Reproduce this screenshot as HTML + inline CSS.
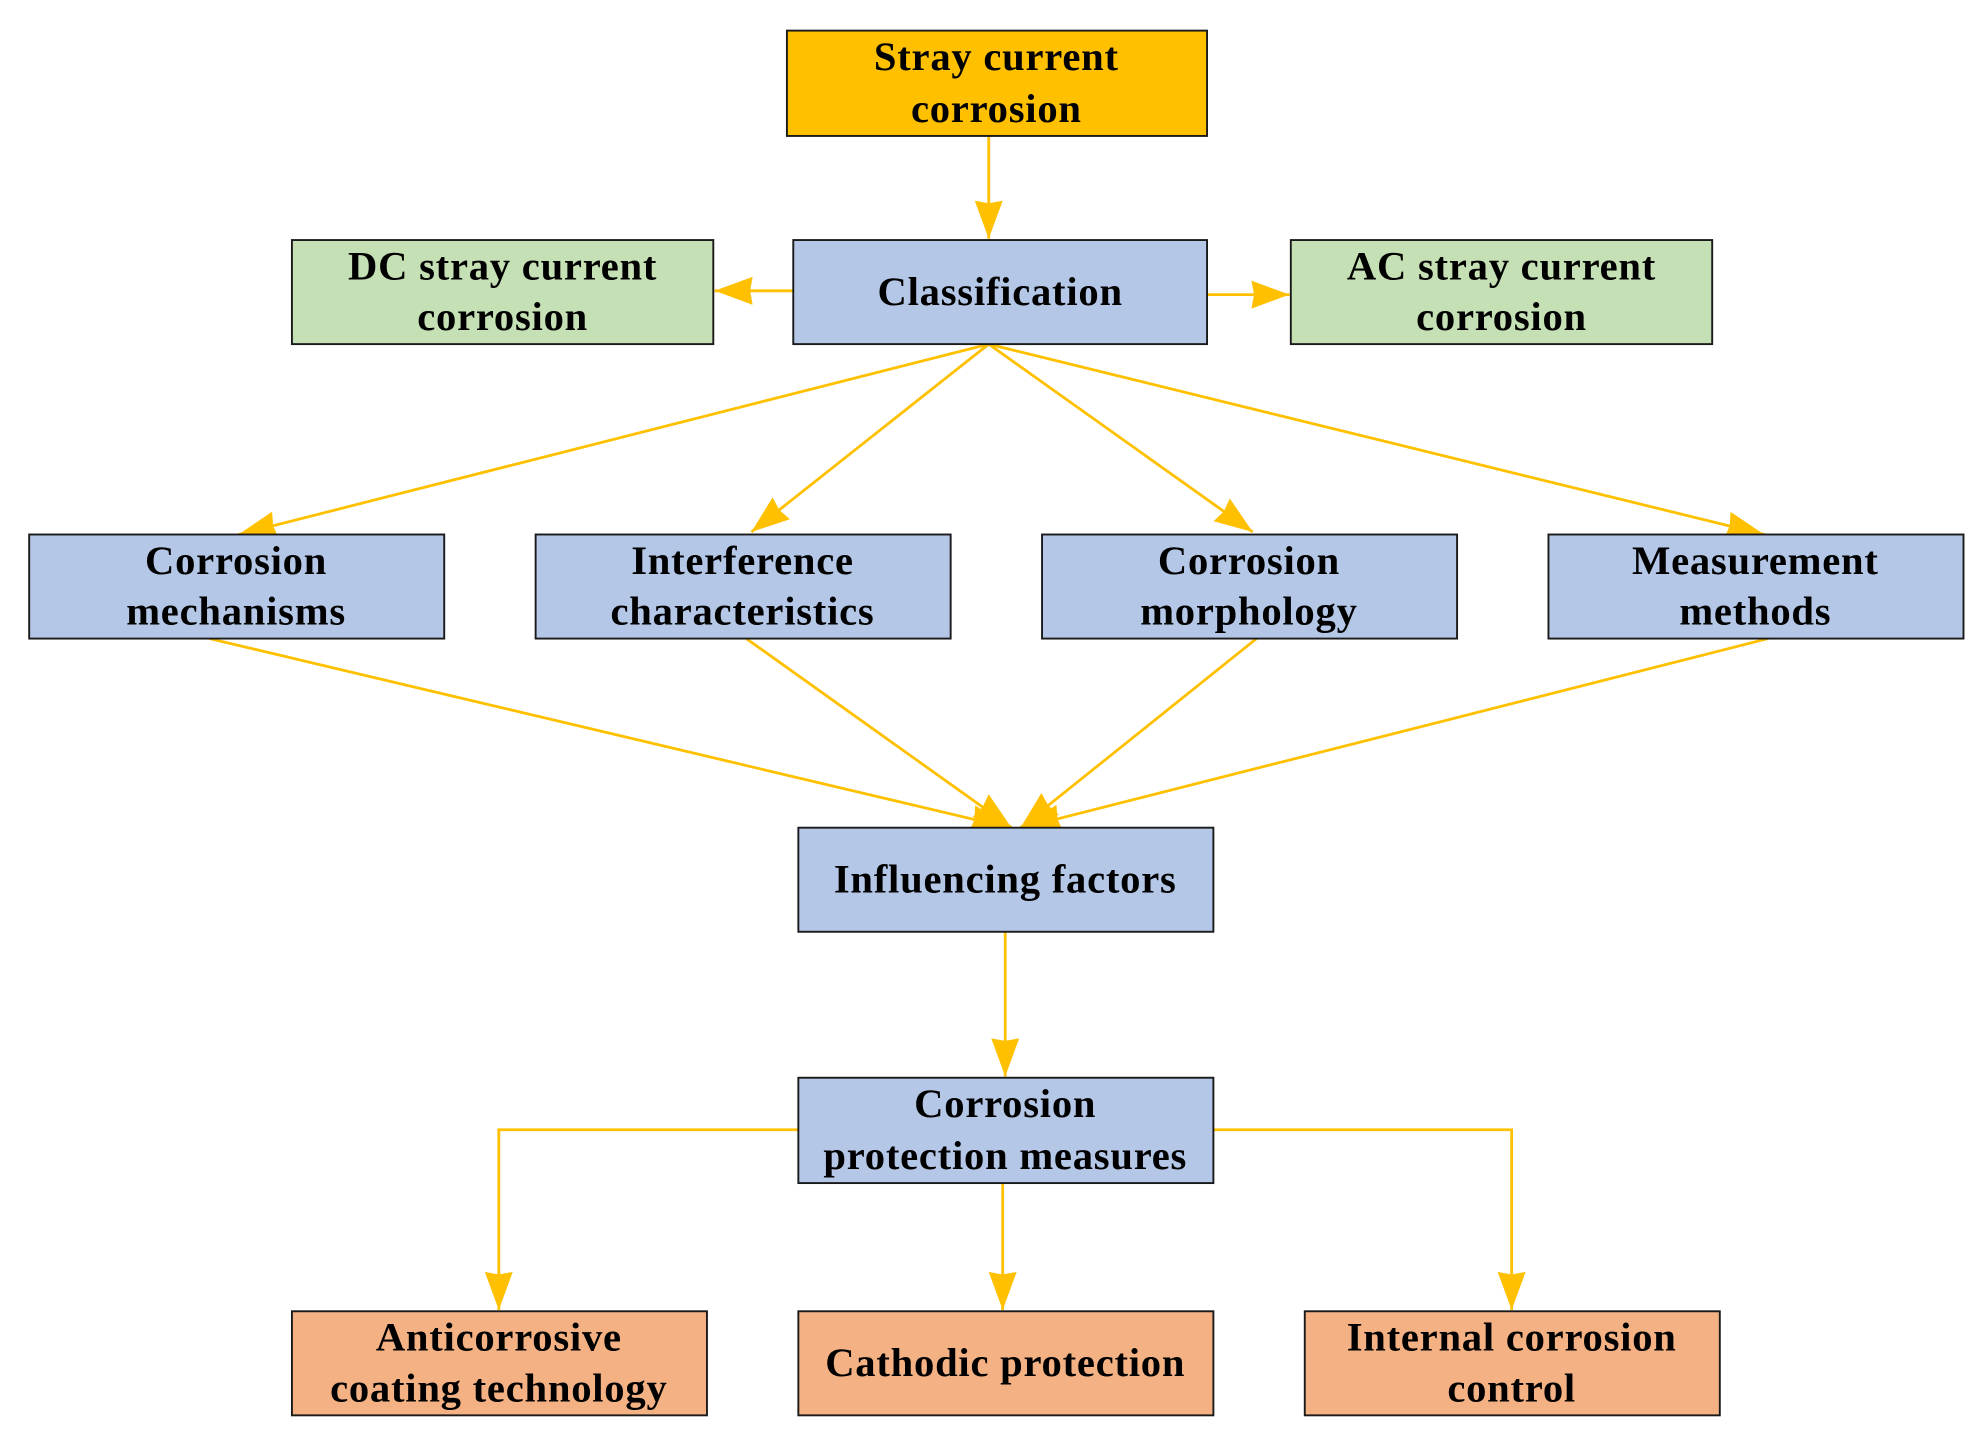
<!DOCTYPE html>
<html><head><meta charset="utf-8"><style>
html,body{margin:0;padding:0;background:#fff}
svg{display:block}
text{font-family:"Liberation Serif",serif;font-weight:bold;font-size:32px;letter-spacing:0.6px;fill:#000;text-anchor:middle}
rect{stroke:#1a1a1a;stroke-width:1.5}
.l{stroke:#FFC000;stroke-width:2.2;fill:none}
</style></head><body>
<svg width="1980" height="1432" viewBox="0 0 1560 1128" xmlns="http://www.w3.org/2000/svg">
<defs>
<marker id="a" markerUnits="userSpaceOnUse" markerWidth="32" markerHeight="24" refX="30" refY="11" orient="auto">
<path d="M0,0 L30,11 L0,22 L2,11 Z" fill="#FFC000"/>
</marker>
</defs>
<line class="l" x1="779" y1="107" x2="779" y2="188" marker-end="url(#a)"/>
<line class="l" x1="625" y1="229" x2="563" y2="229" marker-end="url(#a)"/>
<line class="l" x1="951" y1="232" x2="1016" y2="232" marker-end="url(#a)"/>
<line class="l" x1="779" y1="271" x2="188" y2="421" marker-end="url(#a)"/>
<line class="l" x1="779" y1="271" x2="592" y2="419" marker-end="url(#a)"/>
<line class="l" x1="779" y1="271" x2="987" y2="419" marker-end="url(#a)"/>
<line class="l" x1="779" y1="271" x2="1390" y2="421" marker-end="url(#a)"/>
<line class="l" x1="165" y1="503" x2="795" y2="652" marker-end="url(#a)"/>
<line class="l" x1="588" y1="503" x2="797" y2="652" marker-end="url(#a)"/>
<line class="l" x1="990" y1="503" x2="804" y2="652" marker-end="url(#a)"/>
<line class="l" x1="1393" y1="503" x2="806" y2="652" marker-end="url(#a)"/>
<line class="l" x1="792" y1="734" x2="792" y2="848" marker-end="url(#a)"/>
<polyline class="l" points="629,890 393,890 393,1032" marker-end="url(#a)"/>
<line class="l" x1="790" y1="932" x2="790" y2="1032" marker-end="url(#a)"/>
<polyline class="l" points="956,890 1191,890 1191,1032" marker-end="url(#a)"/>
<rect x="620" y="24" width="331" height="83" fill="#FFC000"/>
<text x="785" y="55">Stray current</text><text x="785" y="96">corrosion</text>
<rect x="625" y="189" width="326" height="82" fill="#B4C7E7"/>
<text x="788" y="240">Classification</text>
<rect x="230" y="189" width="332" height="82" fill="#C5E0B4"/>
<text x="396" y="220">DC stray current</text><text x="396" y="260">corrosion</text>
<rect x="1017" y="189" width="332" height="82" fill="#C5E0B4"/>
<text x="1183" y="220">AC stray current</text><text x="1183" y="260">corrosion</text>
<rect x="23" y="421" width="327" height="82" fill="#B4C7E7"/>
<text x="186" y="452">Corrosion</text><text x="186" y="492">mechanisms</text>
<rect x="422" y="421" width="327" height="82" fill="#B4C7E7"/>
<text x="585" y="452">Interference</text><text x="585" y="492">characteristics</text>
<rect x="821" y="421" width="327" height="82" fill="#B4C7E7"/>
<text x="984" y="452">Corrosion</text><text x="984" y="492">morphology</text>
<rect x="1220" y="421" width="327" height="82" fill="#B4C7E7"/>
<text x="1383" y="452">Measurement</text><text x="1383" y="492">methods</text>
<rect x="629" y="652" width="327" height="82" fill="#B4C7E7"/>
<text x="792" y="703">Influencing factors</text>
<rect x="629" y="849" width="327" height="83" fill="#B4C7E7"/>
<text x="792" y="880">Corrosion</text><text x="792" y="921">protection measures</text>
<rect x="230" y="1033" width="327" height="82" fill="#F4B183"/>
<text x="393" y="1064">Anticorrosive</text><text x="393" y="1104">coating technology</text>
<rect x="629" y="1033" width="327" height="82" fill="#F4B183"/>
<text x="792" y="1084">Cathodic protection</text>
<rect x="1028" y="1033" width="327" height="82" fill="#F4B183"/>
<text x="1191" y="1064">Internal corrosion</text><text x="1191" y="1104">control</text>
</svg>
</body></html>
